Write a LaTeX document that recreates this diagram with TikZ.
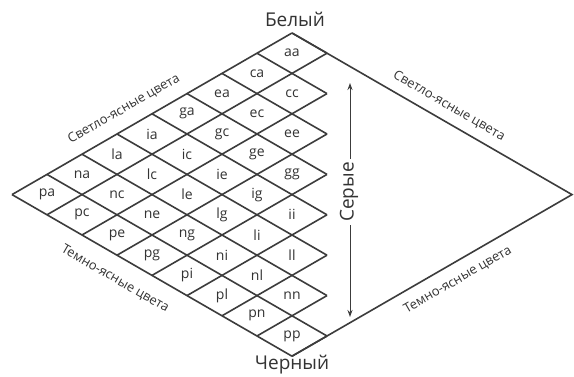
\documentclass[tikz,border=0pt]{standalone}
\usepackage{fontspec}
\setmainfont{Open Sans}
\usetikzlibrary{arrows.meta}
\definecolor{gridc}{HTML}{3C3C3C}
\definecolor{textc}{HTML}{333333}
\tikzset{
  gridline/.style={draw=gridc, line width=1.6pt, line join=miter},
  cell/.style={font=\fontsize{14}{14}\selectfont, text=textc, inner sep=0pt},
  pole/.style={font=\fontsize{19}{19}\selectfont, text=textc, inner sep=0pt},
  edgelabel/.style={font=\fontsize{13}{13}\selectfont, text=textc, inner sep=0pt},
  greyarrow/.style={draw=gridc, line width=1pt, {Stealth[length=7pt,width=5pt]}-{Stealth[length=7pt,width=5pt]}},
}
\begin{document}
\begin{tikzpicture}[x=1pt,y=1pt]
\useasboundingbox (0,0) rectangle (574,-377);
\fill[white] (0,0) rectangle (574,-377);
\begin{scope}[shift={(292,-33)}, x={(-35pt,-20.2pt)}, y={(35pt,-20.2pt)}]
  % lattice corners
  \coordinate (T) at (0,0);
  \coordinate (L) at (8,0);
  \coordinate (B) at (8,8);
  \coordinate (R) at (0,8);
  % lines in down-right direction
  \foreach \a in {0,...,7} {
    \pgfmathtruncatemacro{\e}{\a+1}
    \draw[gridline] (\a,0) -- (\a,\e);
  }
  \draw[gridline] (L) -- (B);
  % lines in down-left direction
  \draw[gridline] (T) -- (L);
  \foreach \b in {1,...,8} {
    \pgfmathtruncatemacro{\s}{\b-1}
    \draw[gridline] (\s,\b) -- (8,\b);
  }
  % outer right half
  \draw[gridline] (T) -- (R) -- (B);
  % cell labels
  \foreach \i/\li in {0/a,1/c,2/e,3/g,4/i,5/l,6/n,7/p} {
    \foreach \j/\lj in {0/a,1/c,2/e,3/g,4/i,5/l,6/n,7/p} {
      \ifnum\j>\i\relax\else
        \node[cell] (c\li\lj) at (\i+0.5,\j+0.5) {\li\lj};
      \fi
    }
  }
\end{scope}
\node[pole] (white) at (295,-19) {Белый};
\node[pole] (black) at (292,-365) {Черный};
\node[edgelabel, rotate=30] (lul) at (124,-109) {Светло-ясные цвета};
\node[edgelabel, rotate=-30] (lll) at (115,-279) {Темно-ясные цвета};
\node[edgelabel, rotate=-30] (lur) at (449,-106) {Светло-ясные цвета};
\node[edgelabel, rotate=30] (llr) at (458,-280) {Темно-ясные цвета};
\coordinate (gtop) at (350,-83);
\coordinate (gbot) at (350,-317);
\draw[greyarrow] (gbot) -- (gtop);
\node[pole, rotate=90, fill=white, inner sep=3pt] (grey) at (349,-192) {Серые};
\end{tikzpicture}
\end{document}
